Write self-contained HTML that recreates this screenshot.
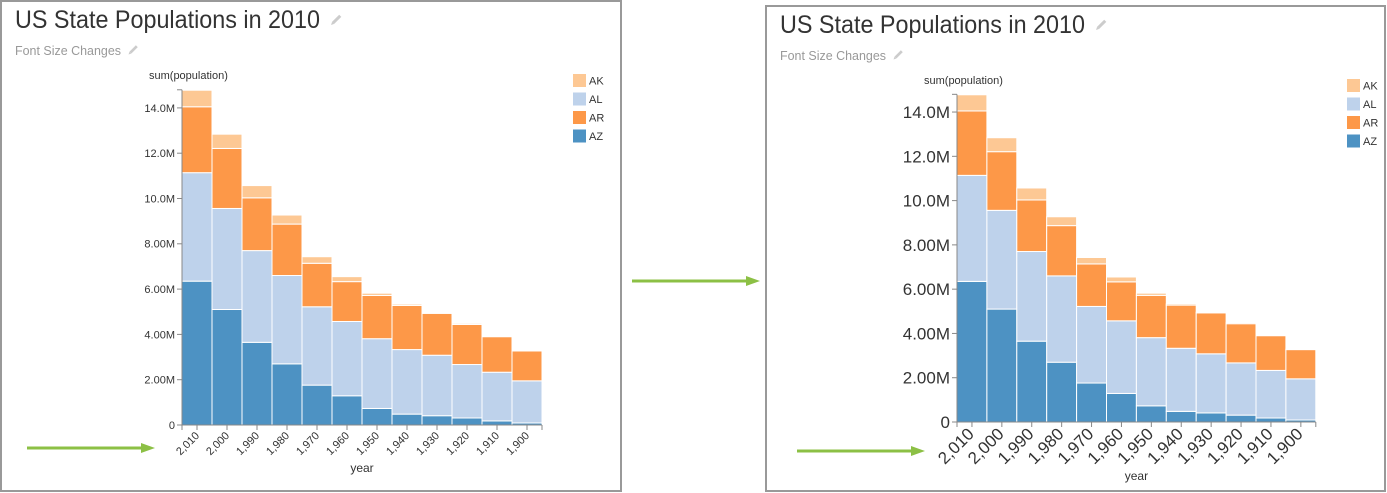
<!DOCTYPE html>
<html><head><meta charset="utf-8"><style>
html,body{margin:0;padding:0;background:#fff;}
svg{display:block;font-family:"Liberation Sans",sans-serif;}
</style></head><body>
<svg id="s" width="1387" height="493" viewBox="0 0 1387 493" xmlns="http://www.w3.org/2000/svg"></svg>
<script>
const data=[[6.35,11.14,14.05,14.78],[5.10,9.56,12.21,12.84],[3.65,7.70,10.03,10.57],[2.70,6.60,8.87,9.27],[1.76,5.22,7.14,7.43],[1.29,4.57,6.33,6.55],[0.73,3.81,5.72,5.82],[0.48,3.33,5.28,5.34],[0.41,3.08,4.93,4.96],[0.31,2.67,4.44,4.49],[0.18,2.33,3.90,3.94],[0.09,1.95,3.27,3.30]];
const years=["2,010","2,000","1,990","1,980","1,970","1,960","1,950","1,940","1,930","1,920","1,910","1,900"];
const cols=["#4d92c3","#bed2eb","#fd9848","#fdc894"];
const yl=["0","2.00M","4.00M","6.00M","8.00M","10.0M","12.0M","14.0M"];
let h='';
function pencil(x,y,s){return `<g transform="translate(${x},${y}) rotate(45) scale(${s})"><rect x="-1.5" y="-6" width="3" height="10" fill="#ccc"/><polygon points="-1.5,4 1.5,4 0,7" fill="#ccc"/></g>`;}
function panel(o){
 h+=`<rect x="${o.bx}" y="${o.by}" width="${o.bw}" height="${o.bh}" fill="none" stroke="#999" stroke-width="2"/>`;
 h+=`<text x="${o.tx}" y="${o.ty}" font-size="25" fill="#333" textLength="305" lengthAdjust="spacingAndGlyphs">US State Populations in 2010</text>`;
 h+=pencil(o.tx+321,o.ty-8,1);
 h+=`<text x="${o.tx}" y="${o.ty+27}" font-size="13" fill="#999" textLength="106" lengthAdjust="spacingAndGlyphs">Font Size Changes</text>`;
 h+=pencil(o.tx+118,o.ty+22,0.9);
 h+=`<text x="${o.ax-33}" y="${o.ty+51}" font-size="11" fill="#333">sum(population)</text>`;
 const bw=o.bw2, pm=o.pm;
 data.forEach((d,i)=>{let prev=0;d.forEach((v,k)=>{const x=o.ax+i*bw;const y1=o.z-v*pm,y0=o.z-prev*pm;
  h+=`<rect x="${x}" y="${y1}" width="${bw}" height="${y0-y1}" fill="${cols[k]}" stroke="#fff" stroke-width="1"/>`;prev=v;});});
 const top=o.z-14.8*pm;
 h+=`<line x1="${o.ax}" y1="${top}" x2="${o.ax}" y2="${o.z}" stroke="#888"/>`;
 h+=`<line x1="${o.ax}" y1="${o.z}" x2="${o.ax+12*bw}" y2="${o.z}" stroke="#888"/>`;
 h+=`<line x1="${o.ax-5}" y1="${top}" x2="${o.ax}" y2="${top}" stroke="#888"/>`;
 h+=`<line x1="${o.ax+12*bw}" y1="${o.z}" x2="${o.ax+12*bw}" y2="${o.z+5}" stroke="#888"/>`;
 yl.forEach((t,i)=>{const y=o.z-2*i*pm;h+=`<line x1="${o.ax-5}" y1="${y}" x2="${o.ax}" y2="${y}" stroke="#888"/><text x="${o.ax-7}" y="${y+o.yf*0.35}" font-size="${o.yf}" text-anchor="end" fill="#333">${t}</text>`;});
 h+=`<line x1="${o.ax}" y1="${o.z}" x2="${o.ax}" y2="${o.z+5}" stroke="#888"/>`;
 years.forEach((t,i)=>{const x=o.ax+i*bw+bw/2;h+=`<line x1="${x}" y1="${o.z}" x2="${x}" y2="${o.z+5}" stroke="#888"/><text transform="translate(${x+3},${o.z+8+o.xf*0.3}) rotate(-45)" font-size="${o.xf}" text-anchor="end" fill="#333">${t}</text>`;});
 h+=`<text x="${o.ax+6*bw}" y="${o.yr}" font-size="12" text-anchor="middle" fill="#333">year</text>`;
 const lc=[cols[3],cols[1],cols[2],cols[0]];
 ["AK","AL","AR","AZ"].forEach((t,i)=>{const y=o.ly+i*18.5;h+=`<rect x="${o.lx}" y="${y}" width="13" height="13" fill="${lc[i]}"/><text x="${o.lx+16}" y="${y+10.5}" font-size="11" fill="#333">${t}</text>`;});
}
panel({bx:1,by:1,bw:620,bh:490,tx:15,ty:28,ax:182,z:425,pm:22.65,bw2:30,yf:11,xf:11,yr:472,lx:573,ly:74});
panel({bx:766,by:6,bw:619,bh:485,tx:780,ty:33,ax:957,z:422,pm:22.14,bw2:29.9,yf:17,xf:17,yr:480,lx:1347,ly:79});
function arrow(x1,x2,y){h+=`<line x1="${x1}" y1="${y}" x2="${x2-12}" y2="${y}" stroke="#8cc045" stroke-width="3"/><polygon points="${x2-14},${y-5} ${x2},${y} ${x2-14},${y+5}" fill="#8cc045"/>`;}
arrow(27,155,448);arrow(632,760,281);arrow(797,925,451);
document.getElementById('s').innerHTML=h;
</script>
</body></html>
